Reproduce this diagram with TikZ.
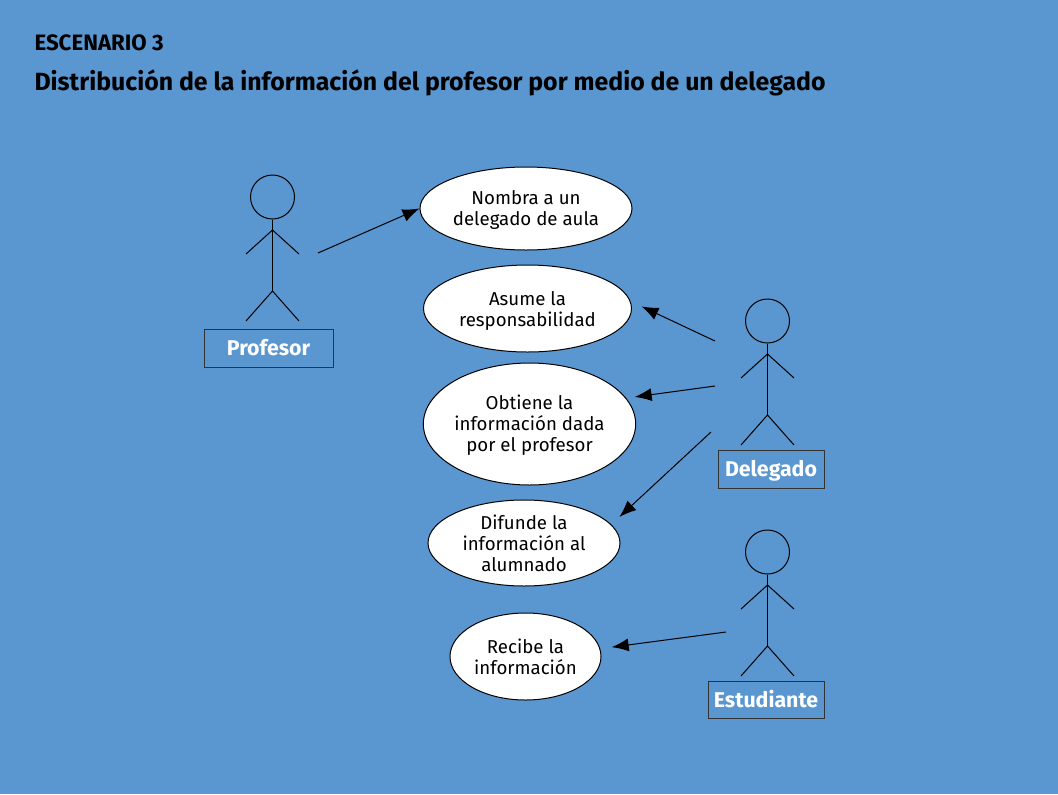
\documentclass[tikz,border=0pt]{standalone}
\usepackage{fontspec}
\setmainfont{Fira Sans}
\usetikzlibrary{shapes.geometric,arrows.meta}
\definecolor{fondo}{RGB}{90,150,207}
\definecolor{borde}{RGB}{51,51,51}
\def\px{0.75pt}
\tikzset{
  caso/.style={draw=black,fill=white,ellipse,inner xsep=0pt,inner ysep=-6pt,align=center,font=\fontsize{14}{15.8}\selectfont},
  actorbox/.style={draw=borde,inner sep=0pt,text=white,text height=14pt,text depth=2.7pt,font=\fontsize{16}{19}\selectfont\bfseries},
  flecha/.style={-{Latex[length=17*\px,width=13*\px]},line width=0.75pt},
}
\begin{document}
\begin{tikzpicture}[x=\px,y=-\px,line width=0.75pt]
\useasboundingbox[fill=fondo] (0,0) rectangle (1058,794);
\node[anchor=base west,inner sep=0pt,font=\fontsize{16.7}{19}\selectfont\bfseries] (escenario) at (34,50) {ESCENARIO 3};
\node[anchor=base west,inner sep=0pt,font=\fontsize{18.65}{22}\selectfont\bfseries] (titulo) at (34,90) {Distribución de la información del profesor por medio de un delegado};
% actores
\foreach \name/\x/\y in {profesor/272.5/197,delegado/767.5/321,estudiante/767.5/552} {
  \node[draw,circle,inner sep=0pt,minimum size=44*\px] (\name) at (\x,\y) {};
  \coordinate (\name-hip) at (\x,\y+94);
  \draw (\name.south) -- (\name-hip);
  \draw (\x-26.5,\y+57) -- (\x,\y+33) -- (\x+26.5,\y+57);
  \draw (\x-26.5,\y+124) -- (\name-hip) -- (\x+26.5,\y+124);
}
\node[actorbox,minimum width=129*\px,minimum height=38*\px] (lprofesor) at (268.5,348) {Profesor};
\node[actorbox,minimum width=106*\px,minimum height=38*\px] (ldelegado) at (771,469) {Delegado};
\node[actorbox,minimum width=116*\px,minimum height=37*\px] (lestudiante) at (766,699.5) {Estudiante};
% casos de uso
\node[caso,minimum width=212*\px,minimum height=83*\px] (nombra) at (526,208.5) {\rule{0pt}{12.5pt}Nombra a un\\delegado de aula};
\node[caso,minimum width=208*\px,minimum height=87*\px] (asume) at (527.5,308.5) {\rule{0pt}{14.5pt}Asume la\\responsabilidad};
\node[caso,minimum width=211*\px,minimum height=122*\px] (obtiene) at (529.5,424) {\rule{0pt}{12.5pt}Obtiene la\\información dada\\por el profesor};
\node[caso,minimum width=192*\px,minimum height=86*\px] (difunde) at (524,543) {Difunde la\\información al\\alumnado};
\node[caso,minimum width=151*\px,minimum height=87*\px] (recibe) at (525.5,656.5) {Recibe la\\información};
% flechas
\coordinate (a1) at (318,253);
\coordinate (a2) at (715,341);
\coordinate (a3) at (715,386);
\coordinate (a4) at (711,432);
\coordinate (a5) at (726,632);
\draw[flecha] (a1) -- (nombra.west);
\draw[flecha,shorten >=12*\px] (a2) -- (asume.4);
\draw[flecha,shorten >=8.5*\px] (a3) -- (obtiene.15);
\draw[flecha,shorten >=11*\px] (a4) -- (difunde.12);
\draw[flecha,shorten >=11.5*\px] (a5) -- (recibe.6);
\end{tikzpicture}
\end{document}
